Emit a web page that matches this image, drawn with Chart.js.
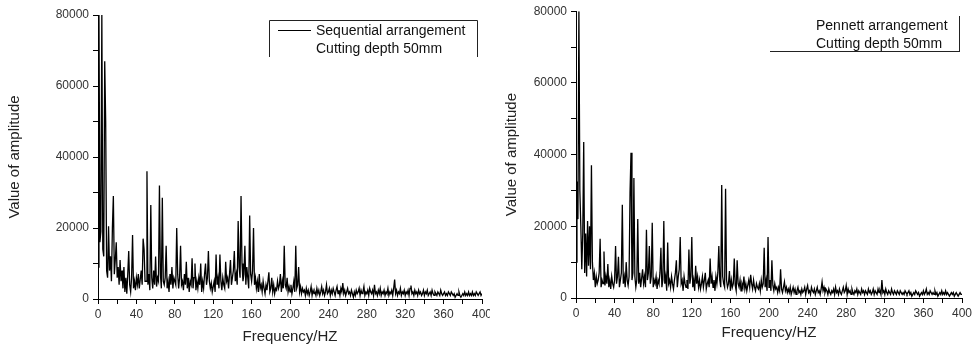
<!DOCTYPE html>
<html>
<head>
<meta charset="utf-8">
<script src="https://cdn.jsdelivr.net/npm/chart.js@4"></script>
<style>
  body { margin: 0; background: #fff; }
  #wrap { position: relative; width: 977px; height: 347px; overflow: hidden; background: #fff; }
  #leftBox { position: absolute; left: 0; top: 0; width: 500px; height: 347px; }
  #rightBox { position: absolute; left: 490px; top: 0; width: 487px; height: 347px; background: #fff; z-index: 1; }
</style>
</head>
<body>
<div id="wrap">
  <div id="leftBox"><canvas id="seqChart" width="500" height="347"></canvas></div>
  <div id="rightBox"><canvas id="penChart" width="487" height="347"></canvas></div>
</div>
<script>
// amplitude spectra, one value per Hz from 0 to 400
var seqAmplitude = [
  9000, 80000, 16000, 19000, 80000, 14000, 12000, 67000, 50000, 8000,
  6000, 20500, 8000, 12000, 5000, 20000, 29000, 7000, 11000, 16000,
  6000, 9000, 4000, 11000, 5000, 8000, 3000, 9000, 2000, 6000,
  1500, 7000, 13500, 4000, 2000, 6000, 18000, 3000, 5000, 2500,
  6000, 4000, 7000, 3000, 5500, 8000, 4000, 17000, 14000, 5000,
  5000, 36000, 4000, 7000, 2500, 26500, 6000, 3000, 8000, 4000,
  12000, 3500, 6000, 5000, 32000, 7000, 3000, 28500, 5000, 4000,
  6000, 15000, 3000, 5000, 2000, 7000, 4000, 9000, 3000, 6000,
  5000, 4000, 20000, 7000, 3000, 6000, 15000, 4000, 5000, 2500,
  7000, 4000, 10500, 3000, 6000, 2000, 5000, 4000, 11500, 3000,
  6000, 10000, 2500, 5000, 3000, 6000, 4000, 10000, 2000, 5000,
  3000, 7000, 10000, 4000, 6000, 13500, 5000, 3000, 4500, 2000,
  3500, 5000, 2000, 12500, 4000, 6000, 3000, 12500, 5000, 2500,
  6000, 4000, 3000, 10500, 5000, 6000, 3000, 7000, 11000, 4000,
  6000, 8000, 13500, 5000, 7000, 4000, 22000, 9000, 6000, 29000,
  10000, 5000, 7000, 15000, 4000, 9000, 6000, 3000, 23500, 7000,
  5000, 8000, 20000, 4000, 6000, 3000, 5000, 2000, 7000, 3000,
  4000, 2000, 5000, 3000, 1500, 4000, 2500, 5000, 7500, 2000,
  3000, 6000, 2000, 4000, 1500, 3000, 2500, 5000, 3000, 4000,
  7000, 2000, 5000, 3000, 15000, 4000, 3000, 6000, 2000, 3500,
  2000, 4000, 1500, 3000, 5000, 2000, 15000, 3000, 4000, 9000,
  2000, 3500, 1500, 3000, 2000, 2500, 1000, 3000, 1500, 2500,
  1000, 2000, 3500, 1000, 2500, 1500, 2000, 1000, 3000, 1500,
  2500, 1000, 2000, 3500, 1500, 2500, 1000, 2000, 4000, 1500,
  2000, 3000, 1000, 2500, 1500, 3000, 2000, 1000, 2500, 3500,
  1500, 2500, 1000, 3000, 2000, 4500, 1500, 2500, 1000, 2000,
  3000, 1500, 2000, 1000, 2500, 1500, 500, 2000, 1000, 2500,
  1500, 2000, 3000, 1000, 2500, 1500, 2000, 3500, 1000, 2000,
  1500, 2500, 1000, 3000, 2000, 1500, 2500, 1000, 4000, 1500,
  2000, 1000, 2500, 1500, 3000, 1000, 2000, 1500, 2500, 1000,
  2000, 1500, 3000, 1000, 2000, 1500, 2500, 1000, 3000, 5500,
  1500, 2500, 1000, 2000, 1500, 3000, 1000, 2000, 1500, 2500,
  1000, 2000, 1500, 2500, 1000, 3000, 3800, 1500, 2000, 1000,
  2500, 1500, 2000, 1000, 2500, 1500, 2000, 1000, 1500, 2500,
  1000, 2000, 1500, 2500, 1000, 1500, 2000, 1000, 2500, 1500,
  1000, 2000, 1500, 1000, 2000, 1500, 1000, 2500, 1500, 1000,
  1500, 2000, 1000, 1500, 1000, 2000, 1500, 1000, 2000, 1500,
  1000, 1500, 500, 1000, 1500, 1000, 2000, 1000, 500, 1000,
  1500, 1000, 2000, 1000, 1500, 1000, 2000, 1000, 1500, 1000,
  2000, 1000, 1500, 1000, 2000, 1500, 1000, 1500, 2000, 1000,
  1500
];

var penAmplitude = [
  10000, 32500, 22000, 80000, 30000, 20000, 8000, 18000, 43500, 7000,
  18000, 6000, 21500, 9000, 20000, 8000, 37000, 10000, 5000, 7000,
  3000, 6000, 4000, 5000, 7000, 16500, 3000, 5000, 4000, 13000,
  3500, 6000, 4000, 9500, 3000, 5000, 2500, 6000, 4000, 3000,
  5000, 14500, 4000, 6000, 11500, 3000, 5000, 7000, 26000, 4000,
  6000, 3000, 10000, 5000, 3500, 6000, 29500, 40500, 5000, 7000,
  33500, 6000, 3000, 5000, 22000, 4000, 7000, 3000, 5500, 8000,
  4000, 6000, 3000, 19000, 5000, 7000, 14500, 4000, 6000, 21000,
  3000, 5000, 4000, 6000, 2500, 5000, 4000, 7000, 14000, 3000,
  5000, 21500, 4000, 6000, 2000, 15500, 4000, 5000, 3000, 6000,
  4000, 2500, 5000, 7000, 10500, 3000, 6000, 8000, 17000, 4000,
  5000, 2000, 6000, 4000, 3000, 5000, 2500, 13500, 4000, 6000,
  17000, 3000, 5000, 2000, 9000, 4000, 6000, 3000, 5000, 2500,
  4000, 6000, 3000, 5000, 7000, 2500, 4000, 5000, 3000, 11000,
  4000, 6000, 3000, 5000, 2000, 6000, 4000, 7000, 14500, 5000,
  3000, 31500, 6000, 4000, 3000, 30500, 5000, 3000, 4000, 7500,
  2000, 5000, 3000, 4000, 11000, 3500, 2000, 10500, 4000, 3000,
  5000, 2000, 4000, 3000, 6000, 2500, 4000, 2000, 3500, 5000,
  3000, 6500, 4000, 2500, 5000, 3000, 2000, 4000, 3000, 2500,
  4000, 2000, 5000, 3000, 4000, 14000, 3000, 5000, 2000, 17000,
  3000, 5000, 2000, 10500, 3500, 2000, 4000, 2500, 3000, 1500,
  3000, 2000, 8000, 2500, 1500, 3000, 4500, 2000, 3000, 1500,
  2500, 1500, 3000, 1000, 2000, 3000, 1500, 2500, 1000, 2000,
  3000, 1500, 2000, 1000, 2500, 1500, 2000, 3000, 1000, 2500,
  3500, 1500, 2000, 1000, 3000, 2000, 1500, 2500, 1000, 2000,
  3000, 1500, 2000, 1000, 2500, 4500, 2000, 3000, 1500, 2500,
  2000, 1000, 2500, 1500, 1000, 2000, 1500, 2500, 1000, 3000,
  1500, 2000, 1000, 2500, 1500, 1000, 2000, 3000, 1500, 2000,
  3500, 1000, 2500, 1500, 2000, 1000, 2500, 1500, 1000, 2000,
  1500, 2500, 1000, 2000, 1500, 1000, 2500, 1500, 2000, 1000,
  2000, 1500, 1000, 2500, 1500, 2000, 1000, 1500, 2500, 1000,
  2000, 1500, 1000, 2500, 1500, 2000, 1000, 5000, 1500, 2000,
  1000, 2500, 1500, 1000, 2000, 1500, 1000, 2500, 1500, 1000,
  2000, 1500, 1000, 2000, 1500, 1000, 2000, 1500, 1000, 1500,
  1000, 2000, 1500, 1000, 1500, 2000, 1000, 1500, 500, 1000,
  1500, 1000, 2000, 1500, 1000, 1500, 500, 1000, 1500, 1000,
  2000, 1000, 1500, 2500, 1000, 1500, 1000, 2000, 1500, 1000,
  1500, 1000, 2000, 1000, 1500, 500, 1000, 1500, 1000, 2000,
  1000, 1500, 1000, 2000, 1000, 1500, 1000, 500, 1000, 1500,
  1000, 1500, 500, 1000, 1500, 1000, 500, 1000, 1500, 1000,
  1000
];

var freqTicks = [0, 20, 40, 60, 80, 100, 120, 140, 160, 180, 200, 220, 240, 260, 280, 300, 320, 340, 360, 380, 400];
var freqLabels = [0, 40, 80, 120, 160, 200, 240, 280, 320, 360, 400];
var ampTicks = [0, 10000, 20000, 30000, 40000, 50000, 60000, 70000, 80000];
var ampLabels = [0, 20000, 40000, 60000, 80000];

var seqNote = ['Sequential arrangement', 'Cutting depth 50mm'];
var penNote = ['Pennett arrangement', 'Cutting depth 50mm'];

Chart.defaults.font.family = '"Liberation Sans", Arial, sans-serif';
Chart.defaults.color = '#333';

function toPoints(values) {
  // sample i sits at i Hz
  return values.map(function (v, i) { return { x: i, y: v }; });
}

// text box drawn over the plot; the two panels use different frames
var notePlugin = {
  id: 'noteBox',
  afterDraw: function (chart, args, opts) {
    var ctx = chart.ctx;
    ctx.save();
    ctx.strokeStyle = '#222';
    ctx.lineWidth = 1;
    ctx.beginPath();
    opts.frame.forEach(function (seg) {
      ctx.moveTo(seg[0], seg[1]);
      ctx.lineTo(seg[2], seg[3]);
    });
    ctx.stroke();
    if (opts.sample) {
      ctx.strokeStyle = '#000';
      ctx.beginPath();
      ctx.moveTo(opts.sample[0], opts.sample[1]);
      ctx.lineTo(opts.sample[2], opts.sample[1]);
      ctx.stroke();
    }
    ctx.fillStyle = '#111';
    ctx.font = '14px "Liberation Sans", Arial, sans-serif';
    ctx.textBaseline = 'middle';
    opts.lines.forEach(function (t, i) {
      ctx.fillText(t, opts.textX, opts.textY + i * opts.lineGap);
    });
    ctx.restore();
  }
};

function makeChart(id, values, cfg) {
  return new Chart(document.getElementById(id), {
    type: 'line',
    data: {
      datasets: [{
        data: toPoints(values),
        borderColor: '#000',
        borderWidth: 1.3,
        pointRadius: 0,
        tension: 0
      }]
    },
    options: {
      responsive: false,
      animation: false,
      devicePixelRatio: 1,
      layout: { padding: { left: 0, top: cfg.top, right: cfg.right, bottom: 0 } },
      plugins: {
        legend: { display: false },
        tooltip: { enabled: false },
        noteBox: cfg.note
      },
      scales: {
        x: {
          type: 'linear',
          min: 0,
          max: 400,
          afterBuildTicks: function (s) { s.ticks = freqTicks.map(function (v) { return { value: v }; }); },
          afterFit: function (s) { s.height = cfg.xHeight; },
          ticks: {
            autoSkip: false,
            maxRotation: 0,
            padding: 3,
            font: { size: cfg.tickSize },
            callback: function (v) { return freqLabels.indexOf(v) >= 0 ? String(v) : ''; }
          },
          grid: { drawOnChartArea: false, drawTicks: true, tickLength: 5, tickColor: '#000' },
          border: { color: '#000', width: 1 },
          title: {
            display: true,
            text: 'Frequency/HZ',
            color: '#222',
            font: { size: 15 },
            padding: { top: 4, bottom: cfg.xTitlePad }
          }
        },
        y: {
          min: 0,
          max: 80000,
          afterBuildTicks: function (s) { s.ticks = ampTicks.map(function (v) { return { value: v }; }); },
          afterFit: function (s) { s.width = cfg.yWidth; },
          ticks: {
            autoSkip: false,
            padding: 4,
            font: { size: cfg.tickSize },
            callback: function (v) { return ampLabels.indexOf(v) >= 0 ? String(v) : ''; }
          },
          grid: { drawOnChartArea: false, drawTicks: true, tickLength: 5, tickColor: '#000' },
          border: { color: '#000', width: 1 },
          title: {
            display: true,
            text: 'Value of amplitude',
            color: '#222',
            font: { size: 15 },
            padding: { top: cfg.yTitlePad, bottom: 4 }
          }
        }
      }
    },
    plugins: [notePlugin]
  });
}

makeChart('seqChart', seqAmplitude, {
  top: 15, right: 18, yWidth: 98, xHeight: 48, tickSize: 12, xTitlePad: 1, yTitlePad: 6,
  note: {
    frame: [[269.5, 57, 269.5, 20.5], [269.5, 20.5, 477.5, 20.5], [477.5, 20.5, 477.5, 57]],
    sample: [278, 30.5, 311],
    lines: seqNote,
    textX: 316, textY: 31, lineGap: 18
  }
});

makeChart('penChart', penAmplitude, {
  top: 10, right: 15, yWidth: 86, xHeight: 49, tickSize: 12, xTitlePad: 5, yTitlePad: 13,
  note: {
    frame: [[469.5, 16, 469.5, 52], [280, 51.5, 469.5, 51.5]],
    sample: null,
    lines: penNote,
    textX: 326, textY: 26, lineGap: 18.5
  }
});
</script>
</body>
</html>
